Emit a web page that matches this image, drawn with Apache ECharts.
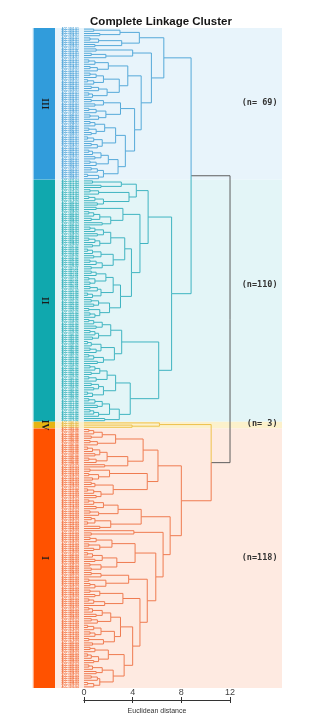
<!DOCTYPE html>
<html><head><meta charset="utf-8">
<script src="https://cdn.jsdelivr.net/npm/echarts@6/dist/echarts.min.js"></script>
<style>html,body{margin:0;padding:0;background:#fff}#c{width:322px;height:718px}</style>
</head><body><div id="c"></div>
<script>
// ---------- DATA ----------
// Tree notation: 0 = leaf, [left, right, mergeHeight] = internal node (Euclidean distance)
const clusterNames = ['III', 'II', 'IV', 'I'];
const clusterSizes = [69, 110, 3, 118];
const clusterCountLabels = ['(n= 69)', '(n=110)', '(n= 3)', '(n=118)'];
const axisTicks = [0, 4, 8, 12];
// top-level merges: [III+II, IV+I, root]
const topMergeHeights = [8.8, 10.45, 12.0];

// Cluster III
const tIII_A1 = [[0,0,0.8],[0,0,1.3],2.96];
const tIII_A2 = [[[0,0,0.5],0,1.2],[0,0,0.9],3.1];
const tIII_B1 = [[0,0,1.0],[[0,0,0.6],0,1.8],4.0];
const tIII_a1 = [[[0,0,0.4],0,0.9],[[0,0,0.5],0,1.1],2.0];
const tIII_a2 = [[[[0,0,0.5],0,1.0],[[0,0,0.3],0,0.8],1.6],[[[0,0,0.6],0,1.2],[[0,0,0.4],0,0.7],1.9],2.9];
const tIII_b1 = [[[0,0,0.6],[0,0,0.9],1.6],[[[0,0,0.4],0,1.0],[[0,0,0.5],0,1.2],1.8],3.0];
const tIII_b2a = [[[[0,0,0.5],0,0.9],[[0,0,0.4],[0,0,0.6],1.0],1.7],[[[0,0,0.3],0,0.8],[[0,0,0.6],0,1.1],1.5],2.6];
const tIII_b2b = [[[[[0,0,0.4],0,0.7],[0,0,0.9],1.4],[[0,0,0.5],0,1.0],2.0],[[[0,0,0.6],0,1.1],[[0,0,0.3],0,1.2],1.6],2.8];
const treeIII = [[tIII_A1, tIII_A2, 4.55],
  [tIII_B1, [[tIII_a1, tIII_a2, 3.6], [tIII_b1, [tIII_b2a, tIII_b2b, 3.4], 4.16], 4.7], 5.54], 6.56];

// Cluster II
const tII_a1 = [[[0,0,0.7],[0,0,1.4],3.07],[[[0,0,0.5],0,1.2],[[[0,0,0.4],0,0.9],[0,0,1.1],1.6],3.7],4.3];
const tII_c1 = [[0,0,1.0],[[[[0,0,0.4],0,0.8],[0,0,0.6],1.3],[0,0,1.5],2.2],3.2];
const tII_c2a = [[[[[0,0,0.5],0,0.9],[0,0,1.1],1.6],[[[0,0,0.4],0,0.9],[0,0,0.7],1.3],2.2],[[[[0,0,0.3],0,0.7],[0,0,0.8],1.4],[[[0,0,0.5],0,1.0],[0,0,0.6],1.5],2.4],3.35];
const tII_c2b = [[[[[0,0,0.6],0,1.0],[[0,0,0.4],[0,0,0.5],0.9],1.8],[[[0,0,0.5],0,1.1],[[0,0,0.3],0,0.7],1.4],2.4],[[[0,0,0.6],[0,0,0.8],1.2],[[0,0,0.4],[[0,0,0.5],0,0.9],1.3],2.1],3.0];
const tII_b1 = [[[[[0,0,0.4],0,0.8],[0,0,1.0],1.5],[[[0,0,0.5],0,0.9],[0,0,0.7],1.2],2.2],[[[[0,0,0.3],0,0.6],[[0,0,0.5],0,1.0],1.4],[[[0,0,0.4],0,0.8],[0,0,1.1],1.6],2.5],3.1];
const tII_b2 = [[[[[[0,0,0.5],0,0.9],[0,0,0.6],1.3],[[0,0,0.4],0,1.0],1.9],[[[0,0,0.6],[0,0,0.8],1.2],[[0,0,0.3],0,0.7],1.6],2.6],[[[[[0,0,0.4],0,0.9],[0,0,1.1],1.5],[[[0,0,0.5],0,0.8],0,1.2],2.1],[0,0,1.7],2.9],3.8];
const treeII = [[tII_a1, [tII_c1, [tII_c2a, tII_c2b, 3.9], 4.6], 5.27], [tII_b1, tII_b2, 6.14], 7.2];

// Cluster IV
const treeIV = [0, [0,0,3.95], 6.2];

// Cluster I
const tI_a1 = [[[[[0,0,0.4],0,0.8],[0,0,0.6],1.5],[[0,0,0.5],0,1.1],2.6],[[[[[0,0,0.3],0,0.7],[0,0,0.9],1.3],[[0,0,0.4],0,1.0],1.9],[0,0,1.7],3.6],4.86];
const tI_a2 = [[[0,0,0.5],[[0,0,0.4],[0,0,0.7],1.2],2.1],[[[0,0,0.6],0,0.9],[[[0,0,0.3],0,0.8],[0,0,1.0],1.4],2.4],5.2];
const tI_b1 = [[[[[0,0,0.4],0,0.8],[0,0,1.0],1.6],[[0,0,0.5],0,1.2],2.8],[[[0,0,0.6],[0,0,0.3],0.9],[0,0,1.3],2.2],4.7];
const tI_g3 = [0,[0,0,0.6],4.1];
const tI_h1 = [[[[0,0,0.5],0,1.0],[[0,0,0.4],[0,0,0.8],1.3],2.3],[[[[0,0,0.3],0,0.7],[0,0,0.9],1.5],[[0,0,0.5],[0,0,0.6],1.4],2.7],4.2];
const tI_h2a = [[[0,0,0.6],0,1.4],[[0,0,0.4],[[0,0,0.5],0,0.9],1.8],3.67];
const tI_j1 = [[[0,0,0.5],[0,0,0.9],1.3],[[[0,0,0.4],0,0.8],0,1.7],3.2];
const tI_j2a = [[[[[0,0,0.4],0,0.7],[0,0,1.0],1.5],[[0,0,0.6],0,1.1],2.2],[[[[0,0,0.3],0,0.8],[[0,0,0.5],0,0.9],1.4],[[0,0,0.4],[0,0,0.7],1.6],2.5],3.0];
const tI_j2b = [[[[0,0,0.5],0,0.9],[[[0,0,0.3],0,0.6],[0,0,0.8],1.2],2.0],[[[[0,0,0.4],0,0.7],[0,0,1.0],1.5],[[[0,0,0.6],0,1.1],[[0,0,0.3],0,0.8],1.3],2.4],3.3];
const treeI = [[tI_a1, tI_a2, 6.08],
  [tI_b1, [tI_g3, [tI_h1, [tI_h2a, [tI_j1, [tI_j2a, tI_j2b, 4.0], 4.6], 5.2], 5.9], 6.5], 7.08], 8.0];

const clusterTrees = [treeIII, treeII, treeIV, treeI];

// ---------- STYLE ----------
const bandColors = ['#E8F4FB', '#E3F5F7', '#FCF1CB', '#FEEAE1'];
const barColors  = ['#319CDB', '#10A8AE', '#E6B412', '#FF5200'];
const lineColors = ['#55A9D9', '#3FB4C1', '#EEC24C', '#EF7B50'];
const labelColors = ['#4FA3D8', '#2FAEB9', '#E2B43C', '#F2703F'];
const rootColor = '#5E5E5E';

// ---------- BUILD ----------
let leafCounter = 0;
const leafCluster = [];
const segs = [];
function buildTree(node, cl) {
  if (node === 0) { leafCluster.push(cl); return { h: 0, y: leafCounter++, c: cl }; }
  const a = buildTree(node[0], cl), b = buildTree(node[1], cl);
  return { h: node[2], y: (a.y + b.y) / 2, c: cl, kids: [a, b] };
}
const clusterRoots = [];
clusterTrees.forEach((t, ci) => {
  const start = leafCounter;
  clusterRoots.push(buildTree(t, ci));
  if (leafCounter - start !== clusterSizes[ci]) throw new Error('cluster ' + clusterNames[ci] + ' has ' + (leafCounter - start));
});
const nodeA = { h: topMergeHeights[0], y: (clusterRoots[0].y + clusterRoots[1].y) / 2, c: -1, kids: [clusterRoots[0], clusterRoots[1]] };
const nodeB = { h: topMergeHeights[1], y: (clusterRoots[2].y + clusterRoots[3].y) / 2, c: -1, kids: [clusterRoots[2], clusterRoots[3]] };
const rootNode = { h: topMergeHeights[2], y: (nodeA.y + nodeB.y) / 2, c: -1, kids: [nodeA, nodeB] };
function collect(n) {
  if (!n.kids) return;
  n.kids.forEach(k => { segs.push([k.h, k.y, n.h, n.y, k.c]); collect(k); });
}
collect(rootNode);
const nLeaves = leafCounter;

const bands = [];
let acc = 0;
clusterSizes.forEach((sz, i) => { bands.push([acc, acc + sz - 1, i]); acc += sz; });
const leafNames = [];
for (let i = 0; i < nLeaves; i++) leafNames.push('ACC-' + String(1001 + i) + '-G' + (leafCluster[i] + 1));

const XMIN = -4.27, XMAX = 16.27;

const chart = echarts.init(document.getElementById('c'), null, { renderer: 'canvas' });
chart.setOption({
  animation: false,
  title: { text: 'Complete Linkage Cluster', left: 'center', top: 11,
    textStyle: { fontFamily: 'Liberation Sans, Arial, sans-serif', fontWeight: 'bold', fontSize: 11.5, color: '#151515' } },
  grid: [
    { left: 32, width: 250, top: 28, height: 660 },
    { left: 84, width: 146, top: 700, height: 0 }
  ],
  xAxis: [
    { gridIndex: 0, type: 'value', min: XMIN, max: XMAX, show: false },
    { gridIndex: 1, type: 'value', min: 0, max: 12, interval: 4, position: 'top',
      axisLine: { show: true, lineStyle: { color: '#333', width: 1 } },
      axisTick: { show: true, length: 3, lineStyle: { color: '#333' } },
      splitLine: { show: false },
      axisLabel: { show: true, margin: 3, fontSize: 9, color: '#444', fontFamily: 'Liberation Sans, Arial, sans-serif' } },
    { gridIndex: 1, type: 'value', min: 0, max: 12, interval: 4, position: 'bottom',
      axisLine: { show: true, lineStyle: { color: '#333', width: 1 } },
      axisTick: { show: true, length: 3, lineStyle: { color: '#333' } },
      splitLine: { show: false }, axisLabel: { show: false },
      name: 'Euclidean distance', nameLocation: 'middle', nameGap: 8,
      nameTextStyle: { fontSize: 7, color: '#333', fontFamily: 'Liberation Sans, Arial, sans-serif' } }
  ],
  yAxis: [
    { gridIndex: 0, type: 'value', min: -0.5, max: nLeaves - 0.5, inverse: true, show: false },
    { gridIndex: 1, type: 'value', show: false }
  ],
  series: [
    { type: 'custom', xAxisIndex: 0, yAxisIndex: 0, data: bands, silent: true, z: 1,
      renderItem: function (params, api) {
        const a = api.value(0), b = api.value(1), ci = api.value(2);
        const p1 = api.coord([XMIN, a - 0.5]), p2 = api.coord([XMAX, b + 0.5]);
        const q1 = api.coord([-4.14, a - 0.5]), q2 = api.coord([-2.38, b + 0.5]);
        const lblPos = api.coord([15.9, [33.6, 116.3, 179.3, 240.3][ci]]);
        return { type: 'group', children: [
          { type: 'rect', shape: { x: p1[0], y: p1[1], width: p2[0] - p1[0], height: p2[1] - p1[1] }, style: { fill: bandColors[ci] } },
          { type: 'rect', shape: { x: q1[0], y: q1[1], width: q2[0] - q1[0], height: q2[1] - q1[1] }, style: { fill: barColors[ci] } },
          { type: 'text', x: (q1[0] + q2[0]) / 2, y: (q1[1] + q2[1]) / 2, rotation: -Math.PI / 2, z2: 5,
            style: { text: clusterNames[ci], fill: '#1b1b1b', font: 'bold 9.5px "Liberation Serif", "DejaVu Serif", serif', align: 'center', verticalAlign: 'middle' } },
          { type: 'text', x: lblPos[0], y: lblPos[1],
            style: { text: clusterCountLabels[ci], fill: '#333', font: 'bold 8.5px "DejaVu Sans Mono", monospace', align: 'right', verticalAlign: 'middle' } }
        ] };
      } },
    { type: 'custom', xAxisIndex: 0, yAxisIndex: 0, data: leafNames.map((n, i) => [i, leafCluster[i]]), silent: true, z: 2,
      renderItem: function (params, api) {
        const i = api.value(0), ci = api.value(1);
        const p = api.coord([-1.85, i]);
        return { type: 'text', x: p[0], y: p[1],
          style: { text: leafNames[i], fill: labelColors[ci], font: 'bold 2.7px "Liberation Sans", sans-serif', align: 'left', verticalAlign: 'middle' } };
      } },
    { type: 'custom', xAxisIndex: 0, yAxisIndex: 0, data: segs, silent: true, z: 3,
      renderItem: function (params, api) {
        const h = api.value(0), y = api.value(1), ph = api.value(2), py = api.value(3), ci = api.value(4);
        const pts = [api.coord([h, y]), api.coord([ph, y]), api.coord([ph, py])];
        return { type: 'polyline', shape: { points: pts },
          style: { stroke: ci >= 0 ? lineColors[ci] : rootColor, lineWidth: 1, fill: null } };
      } }
  ]
});
</script></body></html>
